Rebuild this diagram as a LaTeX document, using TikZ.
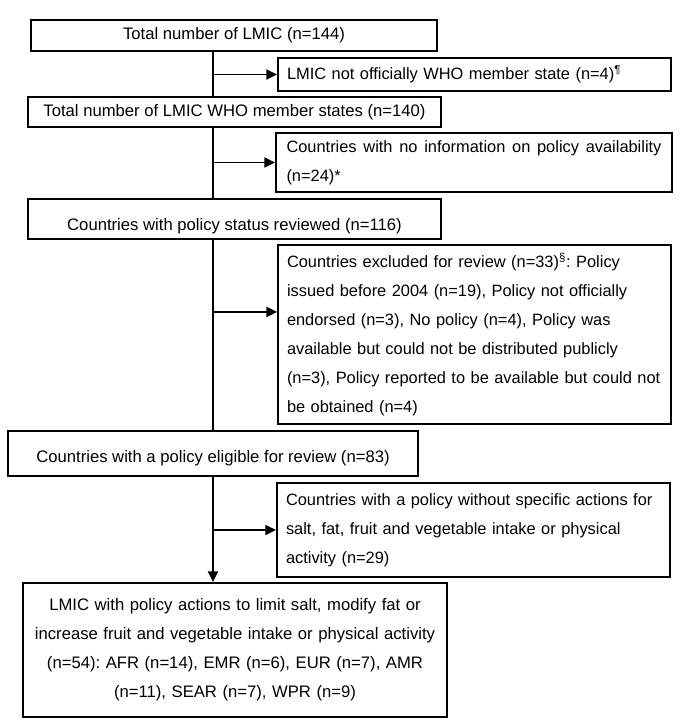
\documentclass[tikz,border=0pt]{standalone}
\usepackage{fontspec}
\setmainfont{Liberation Sans}
\usetikzlibrary{arrows.meta}
\frenchspacing

\begin{document}
\begin{tikzpicture}[x=0.75pt,y=-0.75pt,
		box/.style={draw,line width=1.4pt,inner sep=0pt,font=\fontsize{12.5}{21.75}\selectfont},
		sidebox/.style={box,align=left,text width=281.25pt,minimum width=294.75pt,font=\fontsize{12.3}{21.75}\selectfont},
		trunk/.style={line width=1.4pt},
		arr/.style={line width=1.4pt,-{Triangle[length=8pt,width=7.5pt]}}
	]
		\useasboundingbox (0,0) rectangle (683,725);
		\node[box,minimum width=304.5pt,minimum height=23.25pt] (total) at (234,35.5) {Total number of LMIC (n=144)};
		\node[sidebox,minimum height=24.75pt] (notwho) at (474.5,74.5) {LMIC not officially WHO member state (n=4)\textsuperscript{¶}};
		\node[box,minimum width=309.75pt,minimum height=22.5pt] (members) at (234.5,112) {Total number of LMIC WHO member states (n=140)};
		\node[sidebox,align=justify,minimum width=297pt,minimum height=44.25pt] (noinfo) at (474,162.5) {Countries with no information on policy availability\linebreak (n=24)*};
		\node[box,minimum width=309.75pt,minimum height=30pt,text height=17.6pt,text depth=0pt] (reviewed) at (234.5,219) {Countries with policy status reviewed (n=116)};
		\node[sidebox,minimum height=134.25pt] (excluded) at (474.5,334.5) {Countries excluded for review (n=33)\textsuperscript{§}: Policy\\ issued before 2004 (n=19), Policy not officially\\ endorsed (n=3), No policy (n=4), Policy was\\ available but could not be distributed publicly\\ (n=3), Policy reported to be available but could not\\ be obtained (n=4)};
		\node[box,minimum width=307.5pt,minimum height=33.75pt,text height=13.8pt,text depth=0pt] (eligible) at (213,453.5) {Countries with a policy eligible for review (n=83)};
		\node[sidebox,minimum height=70.5pt] (nospec) at (473.5,530) {Countries with a policy without specific actions for\\ salt, fat, fruit and vegetable intake or physical\\ activity (n=29)};
		\node[box,align=center,text width=312pt,minimum width=318pt,minimum height=100.5pt] (final) at (235,650) {LMIC with policy actions to limit salt, modify fat or\\ increase fruit and vegetable intake or physical activity\\ (n=54): AFR (n=14), EMR (n=6), EUR (n=7), AMR\\ (n=11), SEAR (n=7), WPR (n=9)};
		\coordinate (exclin) at ([yshift=16.9pt]excluded.west);
		\draw[trunk] (total.south -| eligible) -- (members.north -| eligible);
		\draw[arr] (notwho.west -| eligible) -- (notwho.west);
		\draw[trunk] (members.south -| eligible) -- (reviewed.north -| eligible);
		\draw[arr] (noinfo.west -| eligible) -- (noinfo.west);
		\draw[trunk] (reviewed.south -| eligible) -- (eligible.north);
		\draw[arr] (exclin -| eligible) -- (exclin);
		\draw[arr] (eligible.south) -- (final.north -| eligible);
		\draw[arr] (nospec.west -| eligible) -- (nospec.west);
	\end{tikzpicture}
\end{document}
